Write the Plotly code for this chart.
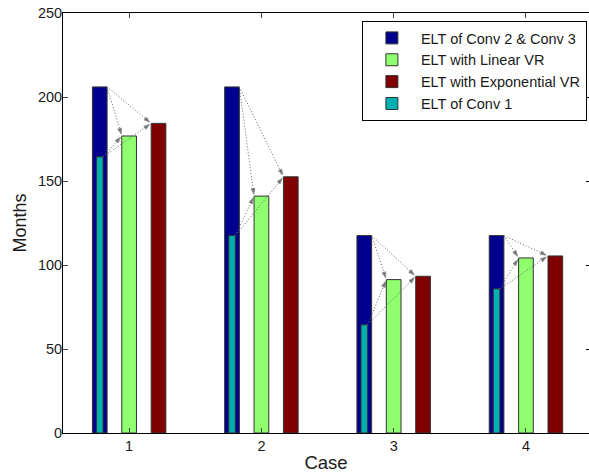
import plotly.graph_objects as go

cases = [1, 2, 3, 4]
conv23 = [206, 206, 117.5, 117.5]
linear_vr = [176.8, 141.0, 91.3, 104.2]
exp_vr = [184.3, 152.5, 93.3, 105.4]
conv1 = [164.4, 117.5, 64.4, 85.8]

names = ["ELT of Conv 2 & Conv 3", "ELT with Linear VR", "ELT with Exponential VR", "ELT of Conv 1"]
colors = ["#00008F", "#8FFF6F", "#800000", "#00AFAF"]
y_ticks = [0, 50, 100, 150, 200, 250]

GAP = 0.2222
BW = 0.111
CW = 0.05

fig = go.Figure()
series = [(conv23, -GAP, BW), (linear_vr, 0.0, BW), (exp_vr, GAP, BW), (conv1, -GAP, CW)]
for (vals, off, w), name, col in zip(series, names, colors):
    fig.add_trace(go.Bar(
        x=cases, y=vals, name=name, offset=off - w / 2, width=w,
        marker=dict(color=col, line=dict(color="#333333", width=1)),
    ))

# dotted arrows from Conv tops to VR bar tops
def arrow(x0, y0, x1, y1):
    fig.add_trace(go.Scatter(
        x=[x0, x1], y=[y0, y1], mode="lines+markers", showlegend=False,
        hoverinfo="skip", yaxis="y2",
        line=dict(color="#666666", width=1, dash="1px,2px"),
        marker=dict(symbol=["circle", "arrow"], size=[0, 6], angleref="previous",
                    standoff=2, color="#333333"),
    ))

for i, c in enumerate(cases):
    gl = c - BW / 2
    rl = c + GAP - BW / 2
    bx = c - GAP + BW / 2
    cx = c - GAP + CW / 2
    arrow(bx, conv23[i], gl, linear_vr[i])
    arrow(bx, conv23[i], rl, exp_vr[i])
    arrow(cx, conv1[i], gl, linear_vr[i])
    arrow(cx, conv1[i], rl, exp_vr[i])

font = dict(family="Liberation Sans, Arial, sans-serif", color="#1a1a1a")
fig.update_layout(
    width=589, height=474,
    margin=dict(l=63, r=0, t=13, b=41),
    paper_bgcolor="white", plot_bgcolor="white",
    barmode="overlay",
    font=dict(size=14, **font),
    showlegend=True,
    legend=dict(x=0.996, xanchor="right", y=0.981, yanchor="top",
                bgcolor="white", bordercolor="black", borderwidth=1,
                font=dict(size=14.5), tracegroupgap=0, itemwidth=48),
    xaxis=dict(range=[0.5, 4.4767], tickvals=cases, ticks="inside", ticklen=5,
               showline=True, linecolor="black", linewidth=1, mirror="ticks",
               showgrid=False, zeroline=False,
               title=dict(text="Case", font=dict(size=18.5), standoff=2),
               tickfont=dict(size=14.5)),
    yaxis=dict(range=[0, 250], tickvals=y_ticks, ticks="inside", ticklen=5,
               showline=True, linecolor="black", linewidth=1,
               showgrid=False, zeroline=False, ticklabelstandoff=-3,
               title=dict(text="Months", font=dict(size=18), standoff=6),
               tickfont=dict(size=14.5)),
    yaxis2=dict(overlaying="y", side="right", matches="y", tickvals=y_ticks,
                ticks="inside", ticklen=3, tickcolor="black", showline=False,
                showticklabels=False, showgrid=False, zeroline=False),
)

fig.write_html(
    "out.html",
    config={"displayModeBar": False},
    post_script="document.body.style.margin='0';document.body.style.overflow='hidden';",
)
